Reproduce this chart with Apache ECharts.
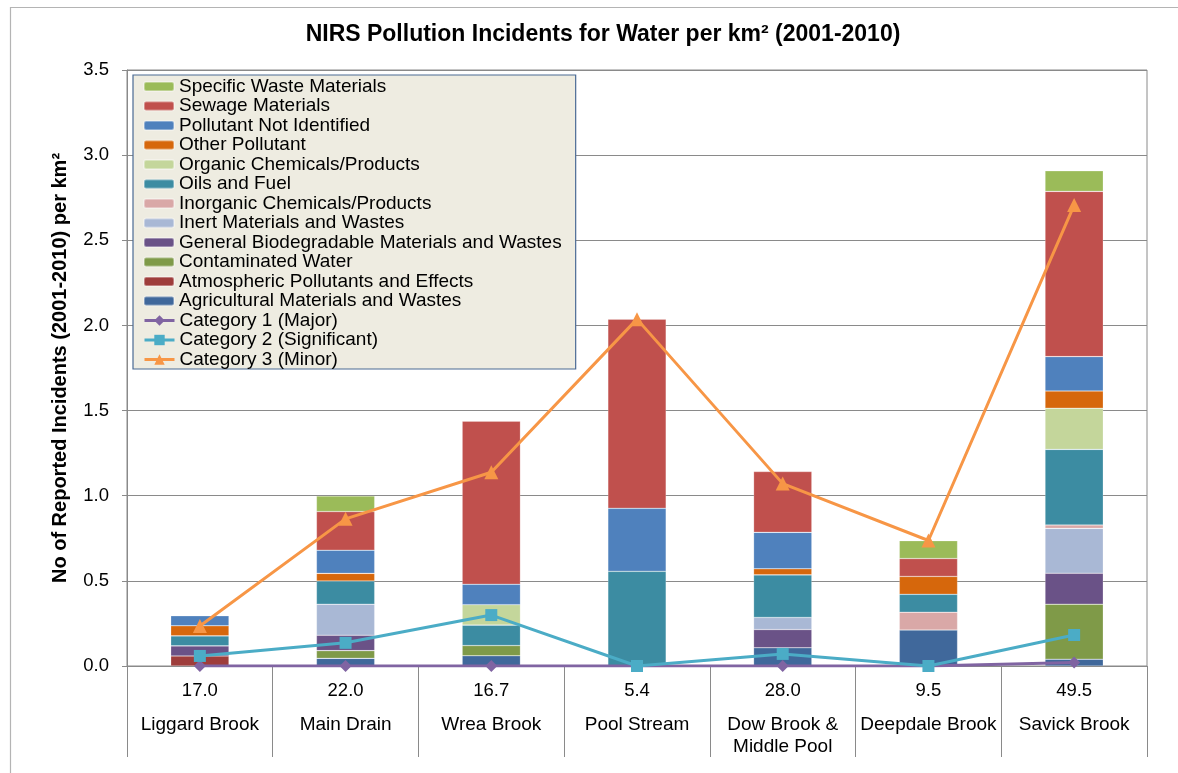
<!DOCTYPE html>
<html><head><meta charset="utf-8">
<script src="https://cdn.jsdelivr.net/npm/echarts@6/dist/echarts.min.js"></script>
<style>html,body{margin:0;padding:0;background:#fff}#c{width:1178px;height:773px}</style>
</head><body><div id="c"></div>
<script>
const categories = ['Liggard Brook','Main Drain','Wrea Brook','Pool Stream','Dow Brook &\nMiddle Pool','Deepdale Brook','Savick Brook'];
const areas = ['17.0','22.0','16.7','5.4','28.0','9.5','49.5'];
const yTicks = [0,0.5,1.0,1.5,2.0,2.5,3.0,3.5];

const agricultural  = [0,     0.045, 0.060, 0,     0.107, 0.211, 0.040];
const atmospheric   = [0.059, 0,     0,     0,     0,     0,     0];
const contaminated  = [0,     0.045, 0.060, 0,     0,     0,     0.323];
const generalBio    = [0.059, 0.091, 0,     0,     0.107, 0,     0.182];
const inert         = [0,     0.182, 0,     0,     0.071, 0,     0.263];
const inorganic     = [0,     0,     0,     0,     0,     0.105, 0.020];
const oils          = [0.059, 0.136, 0.120, 0.556, 0.250, 0.105, 0.444];
const organic       = [0,     0,     0.120, 0,     0,     0,     0.242];
const otherPoll     = [0.059, 0.045, 0,     0,     0.036, 0.105, 0.101];
const notIdentified = [0.059, 0.136, 0.120, 0.370, 0.214, 0,     0.202];
const sewage        = [0,     0.227, 0.958, 1.111, 0.357, 0.105, 0.970];
const specificWaste = [0,     0.091, 0,     0,     0,     0.105, 0.121];

const cat1 = [0,     0,     0,     0,     0,     0,     0.020];
const cat2 = [0.059, 0.136, 0.299, 0,     0.071, 0,     0.182];
const cat3 = [0.235, 0.864, 1.138, 2.037, 1.071, 0.737, 2.707];

const barDefs = [
  ['Agricultural Materials and Wastes', agricultural, '#40689B'],
  ['Atmospheric Pollutants and Effects', atmospheric, '#9E3D3B'],
  ['Contaminated Water', contaminated, '#7F9A48'],
  ['General Biodegradable Materials and Wastes', generalBio, '#6A5287'],
  ['Inert Materials and Wastes', inert, '#A9B8D5'],
  ['Inorganic Chemicals/Products', inorganic, '#D9A8A7'],
  ['Oils and Fuel', oils, '#3C8CA2'],
  ['Organic Chemicals/Products', organic, '#C4D69B'],
  ['Other Pollutant', otherPoll, '#D6670C'],
  ['Pollutant Not Identified', notIdentified, '#4F81BD'],
  ['Sewage Materials', sewage, '#C0504D'],
  ['Specific Waste Materials', specificWaste, '#9BBB59']
];
const lineDefs = [
  ['Category 1 (Major)', cat1, '#8064A2', 'diamond', 12],
  ['Category 2 (Significant)', cat2, '#4BACC6', 'rect', 12],
  ['Category 3 (Minor)', cat3, '#F79646', 'triangle', 14]
];

const FONT = 'Liberation Sans, Arial, sans-serif';
const series = [];
barDefs.forEach(d => {
  series.push({
    name: d[0], type: 'bar', stack: 'total', barWidth: '40%',
    data: d[1].map(v => v === 0 ? null : v),
    itemStyle: { color: d[2], borderColor: 'rgba(255,255,255,0.35)', borderWidth: 0.6 },
    emphasis: { disabled: true }
  });
});
lineDefs.forEach(d => {
  series.push({
    name: d[0], type: 'line', data: d[1], z: 5,
    symbol: d[3], symbolSize: d[4], showSymbol: true,
    lineStyle: { color: d[2], width: 3 },
    itemStyle: { color: d[2] },
    emphasis: { disabled: true }
  });
});

const barLegend = barDefs.map(d => d[0]).reverse();
const lineLegend = lineDefs.map(d => d[0]);
const legendText = { fontFamily: FONT, fontSize: 19, color: '#000', lineHeight: 19 };

const chart = echarts.init(document.getElementById('c'), null, { renderer: 'canvas' });
chart.setOption({
  animation: false,
  backgroundColor: '#fff',
  textStyle: { fontFamily: FONT },
  graphic: [{
    type: 'rect', left: 8, top: 5, shape: { width: 1300, height: 900 },
    style: { fill: 'none', stroke: '#b4b4b4', lineWidth: 1.2 }, silent: true, z: -10
  }],
  title: {
    text: 'NIRS Pollution Incidents for Water per km² (2001-2010)',
    left: 598, textAlign: 'center', top: 18,
    textStyle: { fontFamily: FONT, fontSize: 23, fontWeight: 'bold', color: '#000' }
  },
  legend: [{
    orient: 'vertical', left: 133, top: 75,
    data: barLegend,
    itemWidth: 30, itemHeight: 9, itemGap: 0.5,
    padding: [2, 14, 58.5, 10],
    backgroundColor: '#EEECE1', borderColor: '#4A6A94', borderWidth: 1.2,
    textStyle: legendText,
    selectedMode: false
  }, {
    orient: 'vertical', left: 133, top: 75 + 2 + 12 * 19.5,
    data: lineLegend,
    itemWidth: 30, itemHeight: 13, itemGap: 0.5,
    padding: [0, 8, 0, 10],
    lineStyle: { width: 3 },
    textStyle: legendText,
    selectedMode: false
  }],
  grid: {
    left: 127, right: 31, top: 70, bottom: 107, show: true,
    borderColor: '#8a8a8a', borderWidth: 1, containLabel: false
  },
  xAxis: {
    type: 'category', data: categories,
    axisLine: { show: true, lineStyle: { color: '#8a8a8a', width: 1 } },
    axisTick: { show: true, length: 91, interval: 0, alignWithLabel: false, lineStyle: { color: '#8a8a8a', width: 1 } },
    axisLabel: {
      interval: 0, margin: 14, color: '#000',
      formatter: (v, i) => {
        const parts = v.split('\n');
        let s = '{a|' + areas[i] + '}\n{s| }\n{b|' + parts[0] + '}';
        if (parts[1]) s += '\n{b|' + parts[1] + '}';
        return s;
      },
      rich: {
        a: { fontFamily: FONT, fontSize: 18.5, lineHeight: 22, color: '#000' },
        s: { fontSize: 1, lineHeight: 11.5 },
        b: { fontFamily: FONT, fontSize: 19, lineHeight: 22, color: '#000' }
      }
    },
    splitLine: { show: false }
  },
  yAxis: {
    type: 'value', min: yTicks[0], max: yTicks[yTicks.length - 1], interval: 0.5,
    name: 'No of Reported Incidents (2001-2010) per km²',
    nameLocation: 'middle', nameGap: 57, nameRotate: 90,
    nameTextStyle: { fontFamily: FONT, fontSize: 20, fontWeight: 'bold', color: '#000' },
    axisLine: { show: true, lineStyle: { color: '#8a8a8a', width: 1 } },
    axisTick: { show: true, length: 5, inside: false, lineStyle: { color: '#8a8a8a' } },
    axisLabel: { margin: 18, fontFamily: FONT, fontSize: 18.5, color: '#000', formatter: v => v.toFixed(1) },
    splitLine: { show: true, lineStyle: { color: '#8a8a8a', width: 1, type: 'solid' } }
  },
  series: series
});
</script></body></html>
